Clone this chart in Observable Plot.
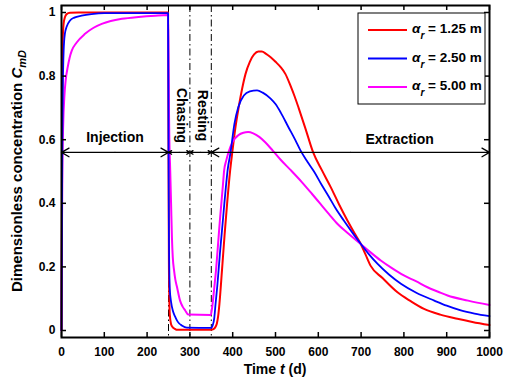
<!DOCTYPE html>
<html><head><meta charset="utf-8">
<script src="https://cdn.jsdelivr.net/npm/d3@7"></script>
<script src="https://cdn.jsdelivr.net/npm/@observablehq/plot@0.6"></script>
<style>body{margin:0;background:#fff}</style>
</head><body><div id="chart"></div>
<script>
// ---- data ----
const tRed = [0,1,2,3,5,8,12,20,40,249,250,251,253,256,260,265,270,350,355,360,363,366,369,375,381,387,394,399,406,414,422,430,440,450,460,468,478,488,500,512,523,535,545,554,570,588,608,629,648,668,685,699,710,722,750,785,815,847,885,925,960,1000];
const cRed = [0,0.45,0.8,0.92,0.965,0.985,0.995,0.999,1,1,0.6,0.2,0.05,0.02,0.01,0.005,0.002,0.002,0.004,0.012,0.022,0.045,0.084,0.19,0.30,0.40,0.503,0.56,0.635,0.702,0.76,0.807,0.845,0.868,0.877,0.877,0.87,0.86,0.845,0.828,0.807,0.77,0.735,0.70,0.635,0.56,0.505,0.451,0.398,0.346,0.305,0.273,0.24,0.204,0.165,0.12,0.093,0.068,0.05,0.037,0.027,0.017];

const tBlue = [0,1,2,3,5,8,12,20,30,47,70,100,249,250,251,253,256,260,265,270,275,281,293,350,353,357,360,364,367,370,373.5,377,380.5,384,388,395,404,413,426,440,457,470,488,500,512,530,547,558,575,590,607,625,640,660,680,699,718,738,765,793,830,871,900,933,965,1000];
const cBlue = [0,0.35,0.6,0.75,0.88,0.934,0.955,0.975,0.984,0.99,0.995,0.998,0.998,0.6,0.3,0.13,0.09,0.063,0.045,0.031,0.022,0.016,0.009,0.008,0.015,0.04,0.084,0.14,0.189,0.24,0.293,0.345,0.4,0.45,0.503,0.56,0.65,0.702,0.739,0.752,0.755,0.748,0.73,0.712,0.686,0.64,0.597,0.567,0.53,0.50,0.46,0.42,0.385,0.345,0.307,0.273,0.24,0.21,0.176,0.147,0.118,0.094,0.078,0.063,0.053,0.045];

const tMag = [0,1,2,4,6.6,10,14.5,19,24,35,55,75,94,115,141,180,219,249,250,251,252,254,256,258,260,263,266,270,277,283,289,296,349,353,357,361,364,367,370,373.5,377,380,385,390,400,413,425,436,448,462,476,494,512,535,562,585,605,625,645,670,699,720,746,772,800,828,855,880,902,950,1000];
const cMag = [0,0.3,0.5,0.65,0.734,0.79,0.828,0.858,0.88,0.905,0.933,0.952,0.964,0.973,0.98,0.986,0.99,0.992,0.85,0.7,0.6,0.503,0.4,0.293,0.23,0.189,0.16,0.136,0.094,0.075,0.063,0.05,0.049,0.084,0.135,0.189,0.24,0.293,0.345,0.4,0.455,0.503,0.535,0.56,0.594,0.614,0.622,0.624,0.62,0.609,0.592,0.565,0.537,0.505,0.466,0.43,0.398,0.366,0.335,0.305,0.272,0.248,0.22,0.196,0.173,0.155,0.136,0.122,0.11,0.094,0.08];

const seriesAlpha = ["1.25","2.50","5.00"];
const seriesColors = ["#ff0000","#0000ff","#ff00ff"];

const xTicks = [0,100,200,300,400,500,600,700,800,900,1000];
const yTicks = [0,0.2,0.4,0.6,0.8,1];

const phaseBounds = [0,250,300,350,1000];
const phaseLabels = ["Injection","Chasing","Resting","Extraction"];
const phaseLabelX = [125,280,330,790];
const phaseLabelY = [0.606,0.676,0.676,0.6];
const phaseLabelRotate = [0,90,90,0];
const arrowLevel = 0.56;

// ---- build tables ----
const toRows = (ts, cs, k) => ts.map((t, i) => ({t, c: cs[i], k}));
const rows = [
  ...toRows(tRed, cRed, 0),
  ...toRows(tMag, cMag, 2),
  ...toRows(tBlue, cBlue, 1)
];
const arrows = [];
for (let i = 0; i < phaseBounds.length - 1; i++) {
  const a = phaseBounds[i], b = phaseBounds[i + 1], m = (a + b) / 2;
  arrows.push({x1: m, x2: a, y: arrowLevel}, {x1: m, x2: b, y: arrowLevel});
}
const labels = phaseLabels.map((s, i) => ({s, x: phaseLabelX[i], y: phaseLabelY[i], r: phaseLabelRotate[i]}));

const W = 510, H = 386, mt = 5, mr = 21, mb = 49, ml = 61;
const innerH = H - mt - mb, innerW = W - ml - mr;
const FONT = "'Liberation Sans', Arial, Helvetica, sans-serif";

const chart = Plot.plot({
  width: W, height: H,
  marginTop: mt, marginRight: mr, marginBottom: mb, marginLeft: ml,
  style: {fontFamily: FONT, fontSize: "12px", fontWeight: "bold", color: "black", background: "white"},
  x: {domain: [0, 1000]},
  y: {domain: [-0.022, 1.022]},
  marks: [
    Plot.ruleX(phaseBounds.slice(1, 4), {stroke: "black", strokeWidth: 1, strokeDasharray: "7,3,1.5,3"}),
    Plot.line(rows.filter(d => d.k === 0), {x: "t", y: "c", stroke: seriesColors[0], strokeWidth: 2, curve: "monotone-x"}),
    Plot.line(rows.filter(d => d.k === 2), {x: "t", y: "c", stroke: seriesColors[2], strokeWidth: 2, curve: "monotone-x"}),
    Plot.line(rows.filter(d => d.k === 1), {x: "t", y: "c", stroke: seriesColors[1], strokeWidth: 1.8, curve: "monotone-x"}),
    Plot.arrow(arrows, {x1: "x1", x2: "x2", y1: "y", y2: "y", stroke: "black", strokeWidth: 1.3, headLength: 10, headAngle: 60}),
    Plot.text(labels, {x: "x", y: "y", text: "s", rotate: "r", fontSize: 14, fontWeight: "bold", fill: "black", textAnchor: "middle", lineAnchor: "middle"}),
    Plot.tickX(xTicks, {x: d => d, insetTop: innerH - 5, stroke: "black", strokeWidth: 1.5}),
    Plot.tickX(xTicks, {x: d => d, insetBottom: innerH - 5, stroke: "black", strokeWidth: 1.5}),
    Plot.tickY(yTicks, {y: d => d, insetRight: innerW - 5, stroke: "black", strokeWidth: 1.5}),
    Plot.tickY(yTicks, {y: d => d, insetLeft: innerW - 5, stroke: "black", strokeWidth: 1.5}),
    Plot.axisX({ticks: xTicks, tickSize: 0, tickPadding: 10, label: null, tickFormat: d => String(d)}),
    Plot.axisY({ticks: yTicks, tickSize: 0, tickPadding: 6, label: null, tickFormat: d => String(d)}),
    Plot.frame({stroke: "black", strokeWidth: 2})
  ]
});
document.getElementById("chart").appendChild(chart);

// ---- axis titles and legend ----
const svg = d3.select(chart);
const yl = svg.append("text")
  .attr("transform", `translate(22,${mt + innerH / 2}) rotate(-90)`)
  .attr("text-anchor", "middle").attr("fill", "black")
  .style("font-size", "15px").style("font-weight", "bold");
yl.append("tspan").text("Dimensionless concentration ");
yl.append("tspan").attr("font-style", "italic").text("C");
yl.append("tspan").attr("font-style", "italic").attr("font-size", "11px").attr("dy", 4).text("mD");

const xl = svg.append("text")
  .attr("x", ml + innerW / 2).attr("y", 374)
  .attr("text-anchor", "middle").attr("fill", "black")
  .style("font-size", "14px").style("font-weight", "bold");
xl.append("tspan").text("Time ");
xl.append("tspan").attr("font-style", "italic").text("t");
xl.append("tspan").text(" (d)");

const lg = svg.append("g").attr("text-anchor", "start");
lg.append("rect").attr("x", 358).attr("y", 13).attr("width", 127).attr("height", 91)
  .attr("fill", "white").attr("stroke", "black").attr("stroke-width", 1);
seriesAlpha.forEach((a, i) => {
  const y = 30 + i * 28.5;
  lg.append("line").attr("x1", 368).attr("x2", 407).attr("y1", y).attr("y2", y)
    .attr("stroke", seriesColors[i]).attr("stroke-width", 2);
  const t = lg.append("text").attr("x", 412).attr("y", y + 3).attr("fill", "black")
    .attr("text-anchor", "start")
    .style("font-size", "13.5px").style("font-weight", "bold");
  t.append("tspan").attr("font-style", "italic").text("α");
  t.append("tspan").attr("font-style", "italic").attr("font-size", "10px").attr("dy", 6).text("r");
  t.append("tspan").attr("dy", -6).text(" = " + a + " m");
});
</script>
</body></html>
